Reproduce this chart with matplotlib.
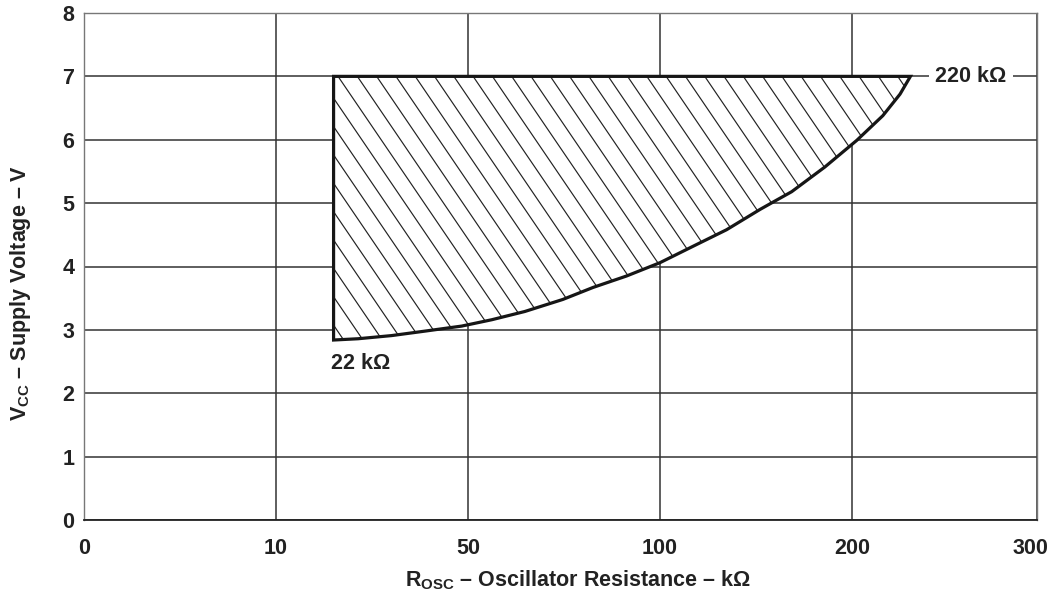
import numpy as np
import matplotlib
matplotlib.use("Agg")
import matplotlib.pyplot as plt
from matplotlib.patches import Polygon
from matplotlib.collections import LineCollection
from matplotlib.transforms import ScaledTranslation

plt.rcParams['font.family'] = ['Liberation Sans', 'DejaVu Sans']
plt.rcParams['font.weight'] = 'bold'
plt.rcParams['mathtext.fontset'] = 'custom'
plt.rcParams['mathtext.rm'] = 'Liberation Sans:bold'
plt.rcParams['mathtext.bf'] = 'Liberation Sans:bold'
plt.rcParams['mathtext.it'] = 'Liberation Sans:bold'

# ---- data ----
x_tick_values = [0, 10, 50, 100, 200, 300]
x_tick_positions = [0, 1, 2, 3, 4, 4.964]
y_ticks = [0, 1, 2, 3, 4, 5, 6, 7, 8]

r_min_kohm = 22
v_max = 7.0
# lower boundary of operating region (R_OSC in kOhm, VCC in V)
curve_r = [22, 27.1, 34.1, 41.0, 48.7, 56.2, 64.8, 74.7, 82.6, 91.3, 100.0, 117.3, 134.7,
           152.1, 160.9, 168.6, 185.9, 202.6, 216.7, 226.0, 231.6]
curve_v = [2.84, 2.86, 2.91, 2.98, 3.06, 3.16, 3.29, 3.48, 3.67, 3.85, 4.06, 4.32, 4.58,
           4.90, 5.05, 5.18, 5.57, 5.99, 6.38, 6.72, 7.0]
label_low = "22 kΩ"
label_high = "220 kΩ"


def fwd(x):
    return np.interp(x, x_tick_values, x_tick_positions)


def inv(u):
    return np.interp(u, x_tick_positions, x_tick_values)


fig = plt.figure(figsize=(10.55, 5.95), dpi=100)
ax = fig.add_axes([84 / 1055, 1 - 520 / 595, (1037 - 84) / 1055, (520 - 13) / 595])
ax.set_xscale('function', functions=(fwd, inv))
ax.set_xlim(0, 300)
ax.set_ylim(0, 7.92)
ax.set_xticks(x_tick_values)
ax.set_xticklabels([str(v) for v in x_tick_values])
ax.set_yticks(y_ticks)
ax.minorticks_off()
ax.tick_params(axis='both', length=0, labelsize=15.5)
ax.tick_params(axis='x', pad=13)
ax.tick_params(axis='y', pad=7)
ax.grid(True, color='#333333', linewidth=1.1)
ax.set_axisbelow(True)
for s in ['top', 'right', 'left']:
    ax.spines[s].set_color('#777777')
    ax.spines[s].set_linewidth(1.0)
ax.spines['bottom'].set_color('#222222')
ax.spines['bottom'].set_linewidth(1.3)

# operating region polygon
pts = [(r_min_kohm, v_max)] + [(r, v) for r, v in zip(curve_r[::-1], curve_v[::-1])]
poly = Polygon(pts, closed=True, facecolor='white', edgecolor='none', zorder=2)
ax.add_patch(poly)

# hatching (style): lines in axes-fraction space, steep "\" direction
W, H = 953.0, 507.0
slope = 1.47
spacing = 19.3
ytop = v_max / 7.92
segs = []
for k in range(-40, 50):
    px = 335 - 84 + k * spacing
    xa = px / W
    x_at_1 = xa - (1 - ytop) * H / slope / W
    x_at_0 = xa + ytop * H / slope / W
    segs.append([(x_at_1, 1.0), (x_at_0, 0.0)])
lc = LineCollection(segs, colors='#222222', linewidths=0.85, transform=ax.transAxes, zorder=3)
lc.set_clip_path(poly)
ax.add_collection(lc)

# outline
outline = Polygon(pts, closed=True, facecolor='none', edgecolor='#161616', linewidth=2.3,
                  joinstyle='miter', zorder=4)
ax.add_patch(outline)

ax.annotate(label_high, xy=(curve_r[-1], curve_v[-1]), xytext=(18, 0), textcoords='offset points',
            ha='left', va='center', fontsize=15.5, fontweight='bold', color='#222222', zorder=5,
            bbox=dict(boxstyle='square,pad=0.3', facecolor='white', edgecolor='none'))
ax.annotate(label_low, xy=(curve_r[0], curve_v[0]), xytext=(-1.5, -17), textcoords='offset points',
            ha='left', va='center', fontsize=15.5, fontweight='bold', color='#222222', zorder=5)

fig.text(578 / 1055, 1 - 580 / 595, r'R$_{\mathrm{OSC}}$ – Oscillator Resistance – kΩ',
         ha='center', va='center', fontsize=15.5, fontweight='bold', color='#222222')
fig.text(21 / 1055, 1 - 293 / 595, r'V$_{\mathrm{CC}}$ – Supply Voltage – V', rotation=90,
         ha='center', va='center', fontsize=15.5, fontweight='bold', color='#222222')

for lbl in ax.get_xticklabels() + ax.get_yticklabels():
    lbl.set_color('#222222')
    lbl.set_fontweight('bold')
# the last x tick label sits slightly inside the right edge
last = ax.get_xticklabels()[-1]
last.set_transform(last.get_transform() + ScaledTranslation(-7 / 100, 0, fig.dpi_scale_trans))

fig.savefig('out.png', dpi=100)
